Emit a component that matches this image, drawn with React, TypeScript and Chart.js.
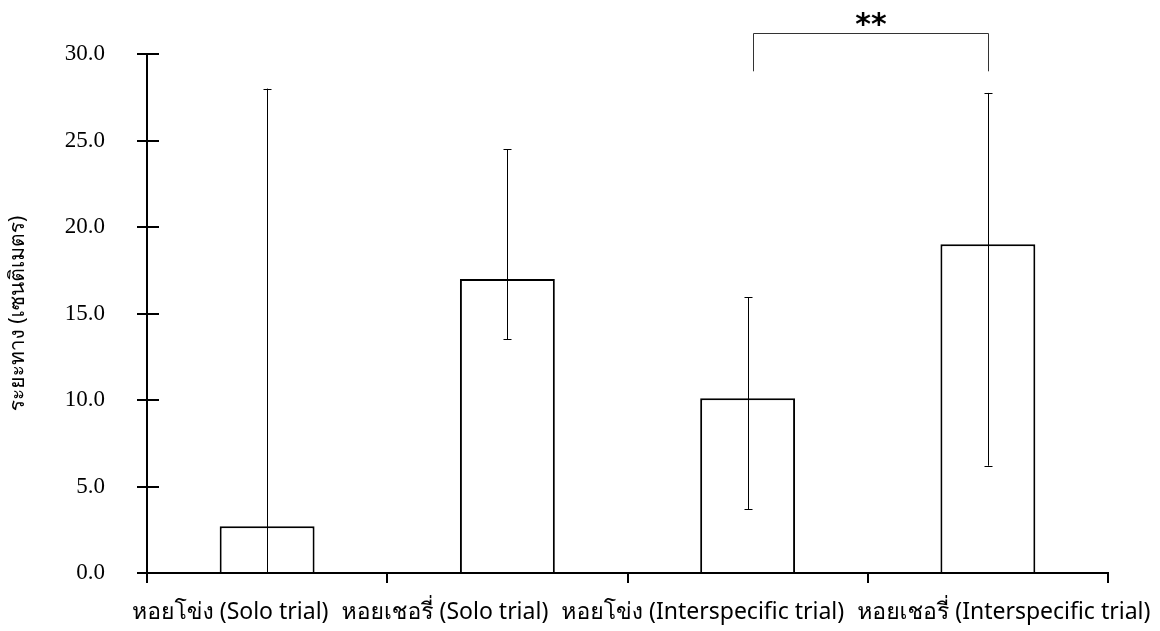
import React, { useEffect, useRef } from "react";
import { Chart, registerables } from "chart.js";

Chart.register(...registerables);

const categories = [
  "หอยโข่ง (Solo trial)",
  "หอยเชอรี่ (Solo trial)",
  "หอยโข่ง (Interspecific trial)",
  "หอยเชอรี่ (Interspecific trial)",
];
const means = [2.7, 17.0, 10.1, 19.0];
const errLow = [0, 13.5, 3.7, 6.2];
const errHigh = [28.0, 24.5, 15.95, 27.75];
const yTicks = [0, 5, 10, 15, 20, 25, 30];
const yTitle = "ระยะทาง (เซนติเมตร)";
const sigLabel = "**";
const sigPair = [2, 3];
const sigBracket = [29.0, 31.2];

const thaiFont =
  "'Noto Sans', 'Loma', 'Waree', 'Garuda', 'Noto Sans Thai Looped', 'Noto Sans Thai', sans-serif";
const serifFont = "'Liberation Serif', 'Times New Roman', serif";

const decorPlugin = {
  id: "decor",
  afterDatasetsDraw(chart: any) {
    const ctx = chart.ctx;
    const y = chart.scales.y;
    const meta = chart.getDatasetMeta(0);
    ctx.save();
    ctx.strokeStyle = "#000";
    ctx.lineWidth = 2;
    yTicks.forEach((v) => {
      const py = Math.round(y.getPixelForValue(v));
      ctx.beginPath();
      ctx.moveTo(chart.chartArea.left, py);
      ctx.lineTo(chart.chartArea.left + 12, py);
      ctx.stroke();
    });
    ctx.lineWidth = 1;
    meta.data.forEach((bar: any, i: number) => {
      const x = Math.round(bar.x) + 0.5;
      const yl = y.getPixelForValue(errLow[i]);
      const yh = y.getPixelForValue(errHigh[i]);
      ctx.beginPath();
      ctx.moveTo(x, yl);
      ctx.lineTo(x, yh);
      ctx.moveTo(x - 4, Math.round(yh) + 0.5);
      ctx.lineTo(x + 4, Math.round(yh) + 0.5);
      if (errLow[i] > 0) {
        ctx.moveTo(x - 4, Math.round(yl) + 0.5);
        ctx.lineTo(x + 4, Math.round(yl) + 0.5);
      }
      ctx.stroke();
    });
    ctx.restore();
  },
  afterDraw(chart: any) {
    const ctx = chart.ctx;
    const y = chart.scales.y;
    const xs = chart.scales.x;
    const meta = chart.getDatasetMeta(0);
    const x1 = Math.round(meta.data[sigPair[0]].x) + 5.5;
    const x2 = Math.round(meta.data[sigPair[1]].x) + 0.5;
    const yb = y.getPixelForValue(sigBracket[0]);
    const yt = Math.round(y.getPixelForValue(sigBracket[1])) + 0.5;
    ctx.save();
    ctx.strokeStyle = "#333";
    ctx.lineWidth = 1;
    ctx.beginPath();
    ctx.moveTo(x1, yb);
    ctx.lineTo(x1, yt);
    ctx.lineTo(x2, yt);
    ctx.lineTo(x2, yb);
    ctx.stroke();
    ctx.fillStyle = "#000";
    ctx.font = "bold 30px 'DejaVu Sans', sans-serif";
    ctx.textAlign = "center";
    ctx.textBaseline = "middle";
    ctx.fillText(sigLabel, (x1 + x2) / 2, yt - 7);

    // category labels: laid out as one run, as in the source figure
    ctx.font = "23px " + thaiFont;
    ctx.textAlign = "left";
    ctx.textBaseline = "alphabetic";
    const gap = 13;
    let cx = xs.left - 15;
    const base = xs.top + 46;
    categories.forEach((c) => {
      ctx.fillText(c, cx, base);
      cx += ctx.measureText(c).width + gap;
    });
    ctx.restore();
  },
};

export default function App() {
  const ref = useRef<HTMLCanvasElement | null>(null);
  useEffect(() => {
    document.body.style.margin = "0";
    const chart = new Chart(ref.current as HTMLCanvasElement, {
      type: "bar",
      data: {
        labels: categories,
        datasets: [
          {
            data: means,
            backgroundColor: "#fff",
            borderColor: "#000",
            borderWidth: 2,
            barPercentage: 0.395,
            categoryPercentage: 1,
          },
        ],
      },
      options: {
        animation: false,
        responsive: false,
        layout: { padding: { top: 54, right: 52, left: 0, bottom: 0 } },
        plugins: { legend: { display: false }, tooltip: { enabled: false } },
        scales: {
          x: {
            grid: {
              offset: true,
              drawOnChartArea: false,
              drawTicks: true,
              tickLength: 10,
              color: "#000",
              lineWidth: 2,
            },
            border: { color: "#000", width: 2 },
            ticks: { display: false },
            afterFit: (s: any) => {
              s.height = 58;
            },
          },
          y: {
            min: 0,
            max: 30,
            afterBuildTicks: (s: any) => {
              s.ticks = yTicks.map((v) => ({ value: v }));
            },
            grid: {
              drawOnChartArea: false,
              drawTicks: true,
              tickLength: 10,
              color: "#000",
              lineWidth: 2,
            },
            border: { color: "#000", width: 2 },
            ticks: {
              color: "#000",
              padding: 32,
              font: { family: serifFont, size: 23 },
              callback: (v: any) => Number(v).toFixed(1),
            },
            title: {
              display: true,
              text: yTitle,
              color: "#000",
              font: { family: thaiFont, size: 21 },
              padding: { top: 5, bottom: 0 },
            },
            afterFit: (s: any) => {
              s.width = 147;
            },
          },
        },
      },
      plugins: [decorPlugin],
    } as any);
    return () => chart.destroy();
  }, []);
  return (
    <div style={{ width: 1160, height: 631, background: "#fff" }}>
      <canvas ref={ref} width={1160} height={631} />
    </div>
  );
}
